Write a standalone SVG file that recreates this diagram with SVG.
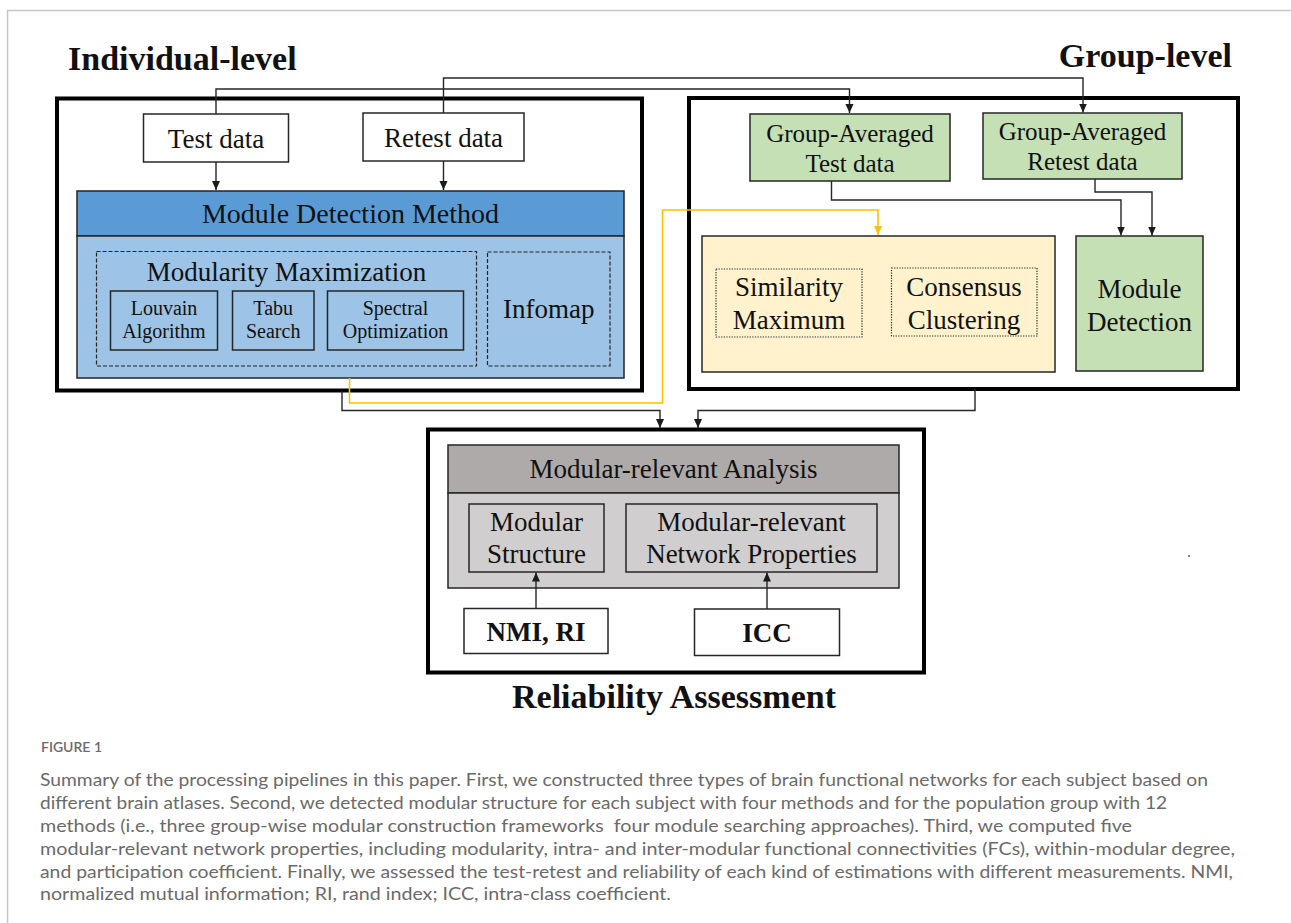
<svg xmlns="http://www.w3.org/2000/svg" width="1291" height="923" viewBox="0 0 1291 923">
<style>
.t{font-family:"Liberation Serif","Times New Roman",serif;fill:#111;text-anchor:middle}
.tb{font-family:"Liberation Serif","Times New Roman",serif;font-weight:bold;fill:#111}
.box{stroke:#262626;stroke-width:1.5}
.frame{fill:none;stroke:#000;stroke-width:4}
.dash{fill:none;stroke:#262626;stroke-width:1.2;stroke-dasharray:4 2}
.dot{fill:none;stroke:#333;stroke-width:1.2;stroke-dasharray:1.3 1.3}
.c{fill:none;stroke:#262626;stroke-width:1.4}
.cy{fill:none;stroke:#ffc000;stroke-width:1.6}
.cap{font-family:Lato,"Open Sans",sans-serif;font-size:17px;fill:#6a6a6a}
</style>
<defs>
<marker id="ah" markerUnits="userSpaceOnUse" markerWidth="9" markerHeight="9" refX="9" refY="4" orient="auto">
<path d="M0,0 L9,4 L0,8 z" fill="#1a1a1a"/>
</marker>
<marker id="ahy" markerUnits="userSpaceOnUse" markerWidth="9" markerHeight="9" refX="9" refY="4" orient="auto">
<path d="M0,0 L9,4 L0,8 z" fill="#ffc000"/>
</marker>
</defs>
<rect width="1291" height="923" fill="#fff"/>
<g id="page-border" stroke="#c6c6c6" stroke-width="1.5" fill="none">
<path d="M7.5,923 V10.5 H1291"/>
</g>
<rect x="1188" y="555" width="2" height="2" fill="#888"/>

<g id="titles">
<text class="tb" x="68" y="70" font-size="34">Individual-level</text>
<text class="tb" x="1232" y="67" font-size="34" text-anchor="end">Group-level</text>
<text class="tb" x="674" y="708" font-size="34" text-anchor="middle">Reliability Assessment</text>
</g>

<g id="individual-level">
<rect class="frame" x="57" y="98.5" width="585" height="292"/>
</g>
<g id="test-data">
<rect class="box" x="143.5" y="114" width="145" height="48" fill="#fff"/>
<text class="t" x="216" y="148" font-size="27">Test data</text>
</g>
<g id="retest-data">
<rect class="box" x="363" y="113" width="161" height="48" fill="#fff"/>
<text class="t" x="443.5" y="147" font-size="27">Retest data</text>
</g>
<g id="module-detection-method">
<rect class="box" x="77" y="191" width="547" height="45" fill="#5b9bd5"/>
<rect class="box" x="77" y="236" width="547" height="142" fill="#9dc3e6"/>
<text class="t" x="350.5" y="223" font-size="28">Module Detection Method</text>
</g>
<g id="modularity-maximization">
<rect class="dash" x="96.5" y="251.5" width="380" height="114.5"/>
<text class="t" x="286.5" y="281" font-size="27">Modularity Maximization</text>
</g>
<g id="louvain">
<rect class="box" x="110.5" y="291" width="107" height="59" fill="#9dc3e6"/>
<text class="t" x="164" y="315" font-size="20">Louvain</text>
<text class="t" x="164" y="338" font-size="20">Algorithm</text>
</g>
<g id="tabu">
<rect class="box" x="232.5" y="291" width="81.5" height="59" fill="#9dc3e6"/>
<text class="t" x="273.2" y="315" font-size="20">Tabu</text>
<text class="t" x="273.2" y="338" font-size="20">Search</text>
</g>
<g id="spectral">
<rect class="box" x="327.5" y="291" width="136" height="59" fill="#9dc3e6"/>
<text class="t" x="395.5" y="315" font-size="20">Spectral</text>
<text class="t" x="395.5" y="338" font-size="20">Optimization</text>
</g>
<g id="infomap">
<rect class="dash" x="487.5" y="252" width="122.5" height="114"/>
<text class="t" x="548.7" y="318" font-size="27">Infomap</text>
</g>

<g id="group-level">
<rect class="frame" x="689" y="98" width="549" height="291"/>
</g>
<g id="ga-test">
<rect class="box" x="750" y="114" width="200" height="67" fill="#c5e0b4"/>
<text class="t" x="850" y="142" font-size="25">Group-Averaged</text>
<text class="t" x="850" y="172" font-size="25">Test data</text>
</g>
<g id="ga-retest">
<rect class="box" x="983" y="113" width="199" height="66" fill="#c5e0b4"/>
<text class="t" x="1082.5" y="140" font-size="25">Group-Averaged</text>
<text class="t" x="1082.5" y="170" font-size="25">Retest data</text>
</g>
<g id="group-frameworks">
<rect class="box" x="702" y="236" width="353" height="136" fill="#fff2cc"/>
</g>
<g id="similarity-maximum">
<rect class="dot" x="716" y="269" width="146" height="68"/>
<text class="t" x="789" y="296" font-size="27">Similarity</text>
<text class="t" x="789" y="329" font-size="27">Maximum</text>
</g>
<g id="consensus-clustering">
<rect class="dot" x="891.5" y="268" width="145.5" height="68"/>
<text class="t" x="964" y="296" font-size="27">Consensus</text>
<text class="t" x="964" y="329" font-size="27">Clustering</text>
</g>
<g id="module-detection">
<rect class="box" x="1076" y="236" width="127" height="135" fill="#c5e0b4"/>
<text class="t" x="1139.5" y="298" font-size="27">Module</text>
<text class="t" x="1139.5" y="331" font-size="27">Detection</text>
</g>

<g id="reliability-assessment">
<rect class="frame" x="428" y="429.5" width="496" height="243"/>
</g>
<g id="modular-relevant-analysis">
<rect class="box" x="448" y="445" width="451" height="48" fill="#aeaaaa"/>
<rect class="box" x="448" y="493" width="451" height="95" fill="#d0cece"/>
<text class="t" x="673.5" y="478" font-size="27">Modular-relevant Analysis</text>
</g>
<g id="modular-structure">
<rect class="box" x="469" y="504" width="135" height="68" fill="#d0cece"/>
<text class="t" x="536.5" y="531" font-size="27">Modular</text>
<text class="t" x="536.5" y="563" font-size="27">Structure</text>
</g>
<g id="network-properties">
<rect class="box" x="626" y="504" width="251" height="68" fill="#d0cece"/>
<text class="t" x="751.5" y="531" font-size="27">Modular-relevant</text>
<text class="t" x="751.5" y="563" font-size="27">Network Properties</text>
</g>
<g id="nmi-ri">
<rect class="box" x="464" y="608.5" width="144" height="45" fill="#fff"/>
<text class="tb" x="536" y="641" font-size="27" text-anchor="middle">NMI, RI</text>
</g>
<g id="icc">
<rect class="box" x="694.5" y="609" width="145" height="46.5" fill="#fff"/>
<text class="tb" x="767" y="642" font-size="27" text-anchor="middle">ICC</text>
</g>

<g id="connectors">
<path class="c" d="M216,114 V89 H849.5 V113" marker-end="url(#ah)"/>
<path class="c" d="M443.5,113 V78 H1083 V112.5" marker-end="url(#ah)"/>
<path class="c" d="M216,162 V190" marker-end="url(#ah)"/>
<path class="c" d="M443.5,161 V190" marker-end="url(#ah)"/>
<path class="c" d="M831.5,181 V200 H1121 V235.5" marker-end="url(#ah)"/>
<path class="c" d="M1095,179 V192 H1152 V235.5" marker-end="url(#ah)"/>
<path class="cy" d="M349.5,378 V403 H662.5 V210 H878 V235" marker-end="url(#ahy)"/>
<path class="c" d="M342,391 V410.5 H660 V428" marker-end="url(#ah)"/>
<path class="c" d="M975,389 V410.5 H698 V428" marker-end="url(#ah)"/>
<path class="c" d="M536,608.5 V572.5" marker-end="url(#ah)"/>
<path class="c" d="M767,609 V572.5" marker-end="url(#ah)"/>
</g>

<g id="caption">
<text x="41" y="752" font-family="Lato,'Open Sans',sans-serif" font-size="13.5" font-weight="600" fill="#6a6a6a" textLength="61" lengthAdjust="spacingAndGlyphs">FIGURE 1</text>
<text class="cap" x="40" y="785.5" textLength="1168" lengthAdjust="spacingAndGlyphs">Summary of the processing pipelines in this paper. First, we constructed three types of brain functional networks for each subject based on</text>
<text class="cap" x="40" y="808.5" textLength="1127" lengthAdjust="spacingAndGlyphs">different brain atlases. Second, we detected modular structure for each subject with four methods and for the population group with 12</text>
<text class="cap" x="40" y="831.5" textLength="1092" lengthAdjust="spacingAndGlyphs" style="white-space:pre">methods (i.e., three group-wise modular construction frameworks  four module searching approaches). Third, we computed five</text>
<text class="cap" x="40" y="854.5" textLength="1195" lengthAdjust="spacingAndGlyphs">modular-relevant network properties, including modularity, intra- and inter-modular functional connectivities (FCs), within-modular degree,</text>
<text class="cap" x="40" y="877.5" textLength="1193" lengthAdjust="spacingAndGlyphs">and participation coefficient. Finally, we assessed the test-retest and reliability of each kind of estimations with different measurements. NMI,</text>
<text class="cap" x="40" y="900" textLength="631" lengthAdjust="spacingAndGlyphs">normalized mutual information; RI, rand index; ICC, intra-class coefficient.</text>
</g>
</svg>
